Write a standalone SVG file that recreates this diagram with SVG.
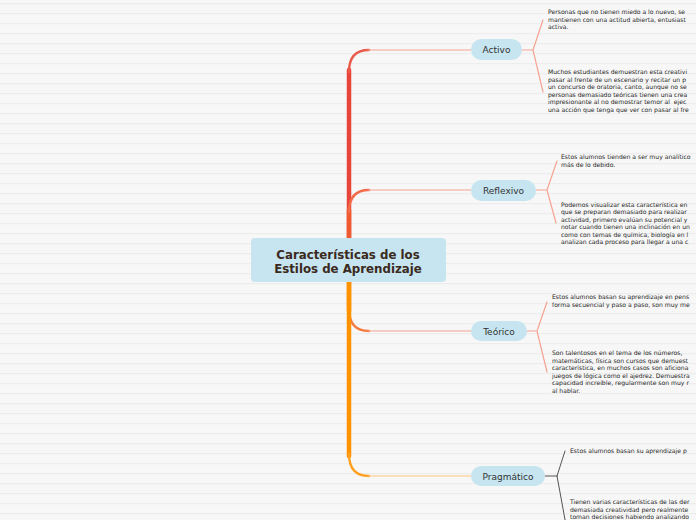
<svg xmlns="http://www.w3.org/2000/svg" width="696" height="520" viewBox="0 0 696 520">
<defs>
<pattern id="bgl" width="696" height="10" patternUnits="userSpaceOnUse">
<rect width="696" height="10" fill="#f7f7f7"/>
<rect y="3" width="696" height="1.2" fill="#ededed"/>
</pattern>
</defs>
<style>
.sub{fill:#c6e5f0}
.lbl{font-family:"DejaVu Sans",Verdana,sans-serif;font-size:9px;fill:#333;text-anchor:middle}
.note{font-family:"DejaVu Sans",Verdana,sans-serif;font-size:6.1px;fill:#1e1e1e}
.thin{fill:none;stroke:#f6a491;stroke-width:1.2}
.gray{fill:none;stroke:#555;stroke-width:1}
</style>
<rect width="696" height="520" fill="url(#bgl)"/>
<g id="connectors" fill="none" stroke-linecap="round">
<path d="M349,240 V70" stroke="#e8453a" stroke-width="4.5"/>
<path d="M349,72 Q349,50 369,50" stroke="#ea5a4a" stroke-width="2.4"/>
<path d="M368,50 H471" class="thin"/>
<path d="M349,240 V210" stroke="#f05a30" stroke-width="4.5"/>
<path d="M349,212 Q349,190 369,190" stroke="#f26a4a" stroke-width="2.4"/>
<path d="M368,190 H471" class="thin"/>
<path d="M349,280 V311" stroke="#ff8a00" stroke-width="4.5"/>
<path d="M349,309 Q349,331 369,331" stroke="#f47a40" stroke-width="2.4"/>
<path d="M368,331 H471" class="thin"/>
<path d="M349,280 V456" stroke="#ff9200" stroke-width="4.5"/>
<path d="M349,454 Q349,476 369,476" stroke="#ffa020" stroke-width="2.4"/>
<path d="M368,476 H471" fill="none" stroke="#ffc77a" stroke-width="1.2"/>
<path d="M522,50 H533 M533,50 L543,20 M533,50 L543,92" class="thin"/>
<path d="M536,190 H547 M547,190 L557,161 M547,190 L556,223" class="thin"/>
<path d="M527,331 H537 M537,331 L547,302 M537,331 L547,372" class="thin"/>
<path d="M545,476 H557 M557,476 L565,451 M557,476 L566,525" class="gray"/>
</g>
<g id="center">
<rect x="251" y="238" width="195" height="44" rx="4" class="sub"/>
<text x="348" y="258.5" font-family="'DejaVu Sans',Verdana,sans-serif" font-size="11.8" font-weight="bold" fill="#3b2a20" text-anchor="middle">Características de los</text>
<text x="348" y="273" font-family="'DejaVu Sans',Verdana,sans-serif" font-size="11.8" font-weight="bold" fill="#3b2a20" text-anchor="middle">Estilos de Aprendizaje</text>
</g>
<g id="activo">
<rect x="471" y="39" width="51" height="21" rx="10.5" class="sub"/>
<text x="496.5" y="53" class="lbl">Activo</text>
</g>
<g id="reflexivo">
<rect x="471" y="180" width="65" height="21" rx="10.5" class="sub"/>
<text x="503.5" y="194" class="lbl">Reflexivo</text>
</g>
<g id="teorico">
<rect x="471" y="321" width="56" height="20" rx="10" class="sub"/>
<text x="499" y="334.5" class="lbl">Teórico</text>
</g>
<g id="pragmatico">
<rect x="471" y="466" width="74" height="20" rx="10" class="sub"/>
<text x="508" y="479.5" class="lbl">Pragmático</text>
</g>
<g id="activo-1" class="note">
<text x="548" y="14">Personas que no tienen miedo a lo nuevo, se</text>
<text x="548" y="21.5">mantienen con una actitud abierta, entusiast</text>
<text x="548" y="29">activa.</text>
</g>
<g id="activo-2" class="note">
<text x="548" y="74">Muchos estudiantes demuestran esta creativi</text>
<text x="548" y="81.5">pasar al frente de un escenario y recitar un p</text>
<text x="548" y="89">un concurso de oratoria, canto, aunque no se</text>
<text x="548" y="96.5">personas demasiado teóricas tienen una crea</text>
<text x="548" y="104" xml:space="preserve">impresionante al no demostrar temor al  ejec</text>
<text x="548" y="111.5">una acción que tenga que ver con pasar al fre</text>
</g>
<g id="reflexivo-1" class="note">
<text x="561" y="159">Estos alumnos tienden a ser muy analítico</text>
<text x="561" y="167">más de lo debido.</text>
</g>
<g id="reflexivo-2" class="note">
<text x="561" y="207">Podemos visualizar esta característica en</text>
<text x="561" y="214.4">que se preparan demasiado para realizar</text>
<text x="561" y="221.8">actividad, primero evalúan su potencial y</text>
<text x="561" y="229.2">notar cuando tienen una inclinación en un</text>
<text x="561" y="236.6">como con temas de química, biología en l</text>
<text x="561" y="244">analizan cada proceso para llegar a una c</text>
</g>
<g id="teorico-1" class="note">
<text x="552" y="299">Estos alumnos basan su aprendizaje en pens</text>
<text x="552" y="307">forma secuencial y paso a paso, son muy me</text>
</g>
<g id="teorico-2" class="note">
<text x="552" y="355">Son talentosos en el tema de los números,</text>
<text x="552" y="362.5">matemáticas, física son cursos que demuest</text>
<text x="552" y="370">característica, en muchos casos son aficiona</text>
<text x="552" y="377.5">juegos de lógica como el ajedrez. Demuestra</text>
<text x="552" y="385">capacidad increíble, regularmente son muy r</text>
<text x="552" y="392.5">al hablar.</text>
</g>
<g id="pragmatico-1" class="note">
<text x="570" y="453">Estos alumnos basan su aprendizaje p</text>
</g>
<g id="pragmatico-2" class="note">
<text x="570" y="504">Tienen varias características de las der</text>
<text x="570" y="511.5">demasiada creatividad pero realmente</text>
<text x="570" y="519">toman decisiones habiendo analizando</text>
</g>
</svg>
